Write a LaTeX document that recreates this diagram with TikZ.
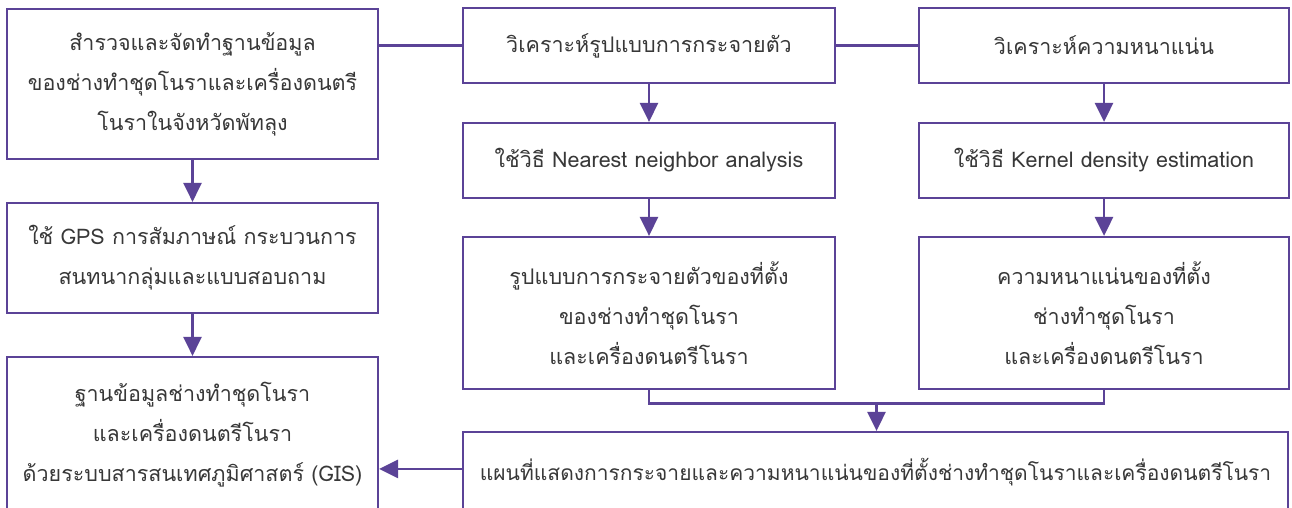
\documentclass[tikz,border=0pt]{standalone}
\usepackage{fontspec}
\setmainfont[Script=Thai]{Loma}
\usetikzlibrary{arrows.meta,calc}
\definecolor{pur}{HTML}{5B4397}
\definecolor{txt}{HTML}{383838}
\begin{document}
\begin{tikzpicture}[x=1pt,y=-1pt,
 box/.style={draw=pur,line width=2.2pt,fill=white,text=txt,align=center,inner sep=0pt,font=\fontsize{21.5}{40}\selectfont},
 conn/.style={draw=pur,line width=2.8pt},
 arr/.style={conn,-{Triangle[width=18pt,length=19pt]}}]
\clip (0,0) rectangle (1292,507);
\fill[white] (0,0) rectangle (1292,507);
\node[box,minimum width=371pt,minimum height=150pt] (L1) at (192.5,84) {สำรวจและจัดทำฐานข้อมูล\\ของช่างทำชุดโนราและเครื่องดนตรี\\โนราในจังหวัดพัทลุง};
\node[box,minimum width=371pt,minimum height=110pt] (L2) at (192.5,258) {ใช้ GPS การสัมภาษณ์ กระบวนการ\\สนทนากลุ่มและแบบสอบถาม};
\node[box,minimum width=371pt,minimum height=155pt] (L3) at (192.5,434.5) {ฐานข้อมูลช่างทำชุดโนรา\\และเครื่องดนตรีโนรา\\ด้วยระบบสารสนเทศภูมิศาสตร์ (GIS)};
\node[box,minimum width=372pt,minimum height=75pt] (M1) at (649,45.5) {วิเคราะห์รูปแบบการกระจายตัว};
\node[box,minimum width=372pt,minimum height=75pt] (M2) at (649,160.5) {ใช้วิธี Nearest neighbor analysis};
\node[box,minimum width=372pt,minimum height=152pt] (M3) at (649,313) {รูปแบบการกระจายตัวของที่ตั้ง\\ของช่างทำชุดโนรา\\และเครื่องดนตรีโนรา};
\node[box,minimum width=370pt,minimum height=75pt] (R1) at (1104,45.5) {วิเคราะห์ความหนาแน่น};
\node[box,minimum width=370pt,minimum height=75pt] (R2) at (1104,160.5) {ใช้วิธี Kernel density estimation};
\node[box,minimum width=370pt,minimum height=152pt] (R3) at (1104,313) {ความหนาแน่นของที่ตั้ง\\ช่างทำชุดโนรา\\และเครื่องดนตรีโนรา};
\node[box,font=\fontsize{21}{40}\selectfont,minimum width=825pt,minimum height=80pt] (B) at (875.5,472) {แผนที่แสดงการกระจายและความหนาแน่นของที่ตั้งช่างทำชุดโนราและเครื่องดนตรีโนรา};
% connectors
\draw[conn] (M1.west) -- (M1.west -| L1.east);
\draw[conn] (M1.east) -- (R1.west);
\draw[arr] (L1.south) -- (L2.north);
\draw[arr] (L2.south) -- (L3.north);
\draw[arr] (M1.south) -- (M2.north);
\draw[arr] (M2.south) -- (M3.north);
\draw[arr] (R1.south) -- (R2.north);
\draw[arr] (R2.south) -- (R3.north);
\draw[conn] (M3.south) -- ++(0,13) -| (R3.south);
\coordinate (mid) at ($(M3.south)!0.5!(R3.south)+(0,13)$);
\draw[arr] (mid) -- (mid |- B.north);
\coordinate (bw) at ($(B.north west)+(0,38)$);
\draw[arr] (bw) -- (bw -| L3.east);
\end{tikzpicture}
\end{document}
